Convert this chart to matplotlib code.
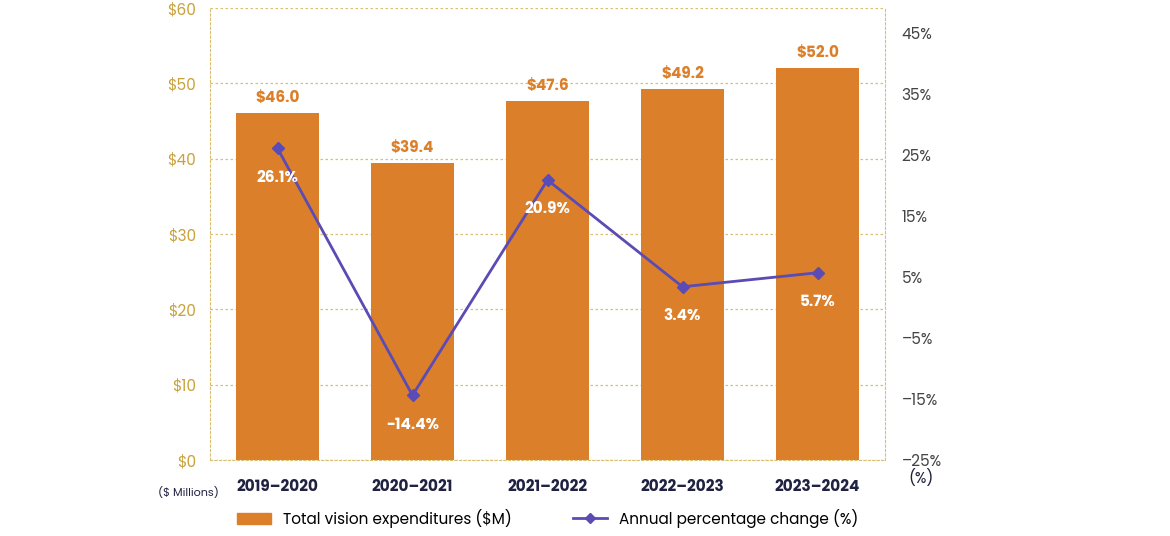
import matplotlib.pyplot as plt
import numpy as np

years = ['2019–2020', '2020–2021', '2021–2022', '2022–2023', '2023–2024']
spend = [46.0, 39.4, 47.6, 49.2, 52.0]
pct = [26.1, -14.4, 20.9, 3.4, 5.7]

orange = '#dc7f2a'
purple = '#5a4bb5'
gold = '#c9a23c'
navy = '#1f2240'

plt.rcParams['font.family'] = ['Poppins', 'Lato', 'DejaVu Sans']

fig = plt.figure(figsize=(11.7, 5.36), dpi=100)
ax = fig.add_axes([210 / 1170, 1 - 460 / 536, 675 / 1170, 452 / 536])
x = np.arange(len(years))
ax.bar(x, spend, width=0.62, color=orange, zorder=2)
ax.set_xlim(-0.5, 4.5)
ax.set_ylim(0, 60)
ax.set_yticks(range(0, 61, 10))
ax.set_yticklabels([f'${v}' for v in range(0, 61, 10)], color=gold, fontsize=11)
ax.grid(axis='y', linestyle=(0, (2, 2)), color='#d8c070', linewidth=0.9, zorder=0)
ax.set_xticks(x)
ax.set_xticklabels(years, fontsize=11, fontweight='bold', color=navy)
ax.tick_params(axis='x', length=0, pad=14)
ax.tick_params(axis='y', length=0, pad=10)
for s in ['top', 'right']:
    ax.spines[s].set_visible(False)
for s in ['left', 'bottom']:
    ax.spines[s].set_linestyle((0, (2, 2)))
    ax.spines[s].set_color('#d8c070')
for xi, v in zip(x, spend):
    ax.text(xi, v + 1.0, f'${v:.1f}', ha='center', va='bottom', color=orange,
            fontsize=11, fontweight='bold')

ax2 = ax.twinx()
ax2.set_ylim(-25, 49.1)
ax2.set_yticks(range(-25, 46, 10))
ax2.set_yticklabels([f'{v}%'.replace('-', '–') for v in range(-25, 46, 10)], color='#444444', fontsize=11)
ax2.tick_params(axis='y', length=0, pad=12)
for s in ['top', 'left', 'bottom']:
    ax2.spines[s].set_visible(False)
ax2.spines['right'].set_linestyle((0, (2, 2)))
ax2.spines['right'].set_color('#d8c070')
ax2.plot(x, pct, color=purple, marker='D', markersize=6, linewidth=2, zorder=3)
for xi, v in zip(x, pct):
    ax2.text(xi, v - 3.5, f'{v:.1f}%'.replace('-', '-'), ha='center', va='top', color='white',
             fontsize=11, fontweight='bold')

fig.text(158 / 1170, 1 - 493 / 536, '($ Millions)', ha='left', va='center', fontsize=8, color=navy)
fig.text(908 / 1170, 1 - 478 / 536, '(%)', ha='left', va='center', fontsize=11, color=navy)

from matplotlib.patches import Patch
from matplotlib.lines import Line2D
handles = [Patch(color=orange, label='Total vision expenditures ($M)'),
           Line2D([], [], color=purple, marker='D', markersize=5, linewidth=2,
                  label='Annual percentage change (%)')]
fig.legend(handles=handles, loc='center', bbox_to_anchor=(548 / 1170, 1 - 518 / 536),
           ncol=2, frameon=False, fontsize=11, columnspacing=4, handlelength=2.2)

fig.savefig('out.png', dpi=100)
